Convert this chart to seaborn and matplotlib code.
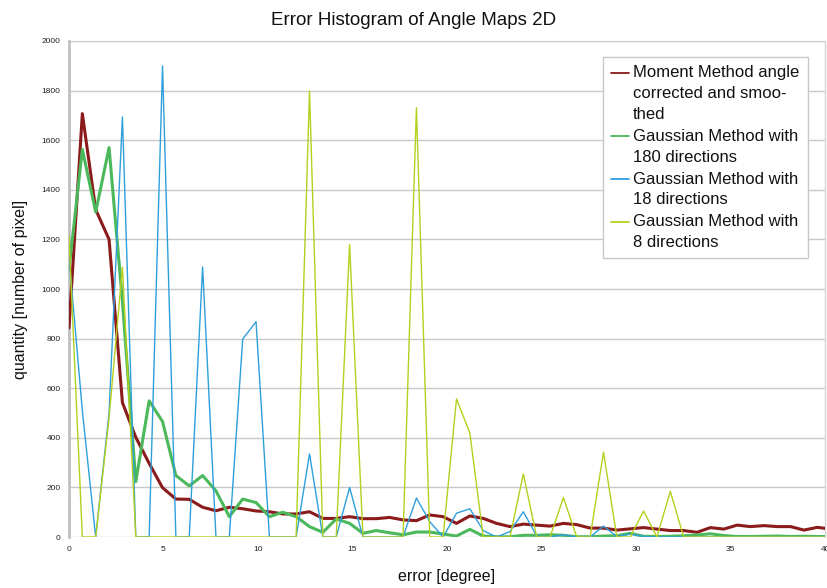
import numpy as np
import pandas as pd
import matplotlib
matplotlib.use("Agg")
import matplotlib.pyplot as plt
from matplotlib.legend_handler import HandlerLine2D
import seaborn as sns

# ---- data ----
step = 0.707
n_points = 58
error_deg = [round(i * step, 3) for i in range(n_points)]

moment = [843, 1707, 1320, 1200, 542, 402, 297, 199, 153, 152, 120, 106, 120, 114, 105,
          102, 93, 93, 102, 75, 75, 82, 74, 74, 79, 69, 66, 89, 82,
          55, 85, 75, 55, 42, 52, 48, 44, 55, 50, 36, 36, 28, 33,
          38, 32, 26, 26, 19, 38, 32, 48, 42, 46, 42, 42, 28, 39, 32]
gauss180 = [1078, 1563, 1310, 1570, 950, 223, 549, 466, 248, 206, 248, 186, 82, 153, 139,
            82, 100, 82, 42, 19, 73, 55, 15, 26, 17, 9, 20, 20, 12,
            4, 31, 4, 1, 1, 7, 7, 9, 7, 1, 1, 4, 5, 15,
            3, 2, 3, 5, 8, 13, 6, 2, 2, 3, 4, 2, 3, 2, 2]
gauss18 = [1130, 510, 0, 500, 1694, 0, 0, 1899, 0, 0, 1089, 0, 0, 798, 868,
           0, 0, 0, 335, 0, 0, 200, 0, 0, 0, 0, 157, 62, 0,
           96, 114, 26, 0, 22, 102, 4, 0, 9, 0, 0, 44, 2, 12,
           3, 0, 0, 0, 0, 0, 0, 0, 0, 0, 0, 0, 0, 0, 0]
gauss8 = [1213, 0, 0, 480, 1088, 0, 0, 0, 0, 0, 0, 0, 0, 0, 0,
          0, 0, 0, 1798, 0, 0, 1179, 0, 0, 0, 0, 1731, 0, 0,
          557, 419, 0, 0, 0, 254, 0, 0, 159, 0, 0, 342, 0, 0,
          105, 0, 184, 0, 0, 0, 0, 0, 0, 0, 0, 0, 0, 0, 0]

labels = ["Moment Method angle\ncorrected and smoo-\nthed",
          "Gaussian Method with\n180 directions",
          "Gaussian Method with\n18 directions",
          "Gaussian Method with\n8 directions"]
colors = ["#8b1a1a", "#4cb85c", "#2f9fdc", "#b4d01e"]
widths = [2.2, 2.2, 1.0, 1.0]
series = [moment, gauss180, gauss18, gauss8]

x_ticks = [0, 5, 10, 15, 20, 25, 30, 35, 40]
y_ticks = list(range(0, 2001, 200))


class TopLineHandler(HandlerLine2D):
    """Place the legend line next to the first text line of a wrapped label."""
    def __init__(self, shift, **kw):
        super().__init__(**kw)
        self.shift = shift

    def create_artists(self, legend, orig_handle, xdescent, ydescent, width,
                       height, fontsize, trans):
        arts = super().create_artists(legend, orig_handle, xdescent, ydescent,
                                      width, height, fontsize, trans)
        for a in arts:
            a.set_ydata(np.asarray(a.get_ydata(), dtype=float) + self.shift)
        return arts


# ---- plot ----
sns.set_theme(style="white")
plt.rcParams['font.family'] = ['Liberation Sans', 'DejaVu Sans']

fig = plt.figure(figsize=(8.27, 5.88), dpi=100)
ax = fig.add_axes([0.0834, 0.0867, 0.9142, 0.8436])

for k in range(4):
    df = pd.DataFrame({"error": error_deg, "quantity": series[k]})
    sns.lineplot(data=df, x="error", y="quantity", ax=ax, color=colors[k],
                 linewidth=widths[k], label=labels[k], zorder=3 + k)

ax.set_xlim(0, 40)
ax.set_ylim(0, 2000)
ax.set_xticks(x_ticks)
ax.set_yticks(y_ticks)
ax.tick_params(axis='both', labelsize=6, length=3, width=0.6, pad=3,
               colors='#999999', labelcolor='#222222')
ax.tick_params(axis='x', length=0, pad=6.5)

ax.yaxis.grid(True, color='#c8c8c8', linewidth=1.0, zorder=0)
ax.xaxis.grid(False)
ax.set_axisbelow(True)

for s in ['top', 'bottom']:
    ax.spines[s].set_visible(False)
ax.spines['left'].set_color('#c0c0c0')
ax.spines['left'].set_linewidth(2.0)
ax.spines['right'].set_color('#d6d6d6')
ax.spines['right'].set_linewidth(1.0)

ax.set_xlabel("error [degree]", fontsize=11.5, color='#111111', labelpad=11.5)
ax.set_ylabel("quantity [number of pixel]", fontsize=11.5, color='#111111', labelpad=10)
fig.suptitle("Error Histogram of Angle Maps 2D", fontsize=13.5, y=0.98, color='#111111')

linespacing = 1.48
line_step_pt = 15.1
hmap = {}
lines = ax.get_lines()
for ln, lab in zip(lines, labels):
    nl = lab.count("\n") + 1
    hmap[ln] = TopLineHandler(shift=(nl - 1) / 2 * line_step_pt)

leg = ax.legend(handles=lines, labels=labels, handler_map=hmap,
                loc='upper left', bbox_to_anchor=(603 / 827, 1 - 57 / 588),
                bbox_transform=fig.transFigure, fontsize=12, frameon=True,
                fancybox=False, handlelength=1.05, handletextpad=0.25,
                labelspacing=0.42, borderpad=0.5, borderaxespad=0)
leg.get_frame().set_edgecolor('#c8c8c8')
leg.get_frame().set_linewidth(1.0)
leg.get_frame().set_facecolor('white')
leg.get_frame().set_alpha(1.0)
for line in leg.get_lines():
    line.set_linewidth(1.3)
for t in leg.get_texts():
    t.set_color('#111111')
    t.set_linespacing(linespacing)

fig.savefig("out.png", dpi=100)
